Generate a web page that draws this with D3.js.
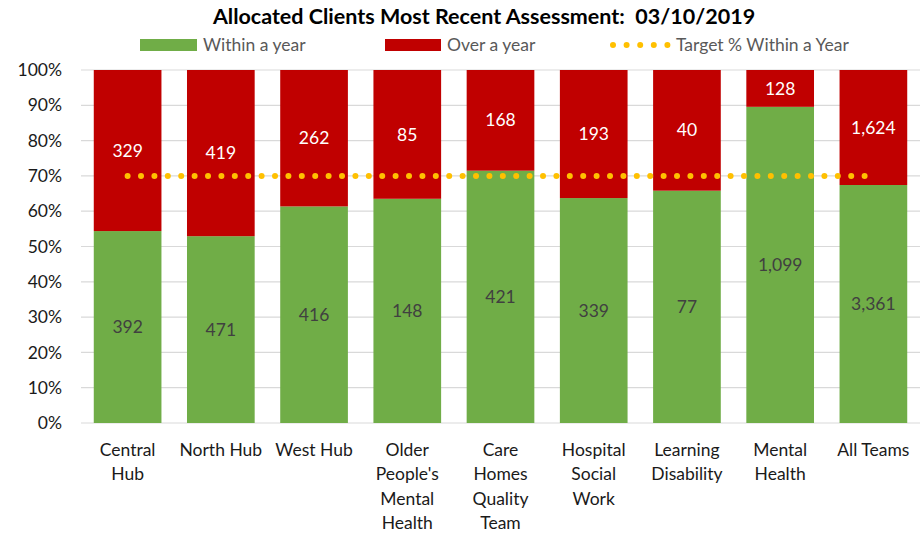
<!DOCTYPE html>
<html><head><meta charset="utf-8">
<script src="https://cdn.jsdelivr.net/npm/d3@7"></script>
<style>body{margin:0;background:#fff;} svg{display:block;font-family:Lato,"Open Sans",sans-serif;}</style>
</head><body><svg id="c" width="921" height="533"></svg>
<script>
const categories = ["Central\nHub","North Hub","West Hub","Older\nPeople's\nMental\nHealth","Care\nHomes\nQuality\nTeam","Hospital\nSocial\nWork","Learning\nDisability","Mental\nHealth","All Teams"];
const withinYear = [392,471,416,148,421,339,77,1099,3361];
const overYear = [329,419,262,85,168,193,40,128,1624];
const targetPct = 0.70;
const yTicks = [0,0.1,0.2,0.3,0.4,0.5,0.6,0.7,0.8,0.9,1.0];
const title = "Allocated Clients Most Recent Assessment:  03/10/2019";
const seriesNames = ["Within a year","Over a year","Target % Within a Year"];

const svg = d3.select("#c");
const m = {l:81, r:1, t:70, b:110};
const W = 921, H = 533;
const FS = 17.5;
const x = d3.scaleBand().domain(categories).range([m.l, W-m.r]).paddingInner(0.274).paddingOuter(0.137);
const y = d3.scaleLinear().domain([0,1]).range([423,70]);
const fmt = d3.format(",");

// gridlines
svg.append("g").selectAll("line").data(yTicks).join("line")
  .attr("x1", m.l).attr("x2", W-m.r)
  .attr("y1", d=>y(d)).attr("y2", d=>y(d))
  .attr("stroke","#d9d9d9").attr("stroke-width",1.2);

// y axis labels
svg.append("g").selectAll("text").data(yTicks).join("text")
  .attr("x", 62).attr("y", d=>y(d)).attr("dy","0.35em")
  .attr("text-anchor","end").attr("font-size",FS).attr("fill","#1a1a1a")
  .text(d=>d3.format(".0%")(d));

const rows = categories.map((c,i)=>{const t=withinYear[i]+overYear[i];return {c, w:withinYear[i], o:overYear[i], pw:withinYear[i]/t};});

// bars
svg.append("g").selectAll("rect").data(rows).join("rect")
  .attr("x", d=>x(d.c)).attr("width", x.bandwidth())
  .attr("y", d=>y(d.pw)).attr("height", d=>y(0)-y(d.pw))
  .attr("fill","#70ad47");
svg.append("g").selectAll("rect").data(rows).join("rect")
  .attr("x", d=>x(d.c)).attr("width", x.bandwidth())
  .attr("y", y(1)).attr("height", d=>y(d.pw)-y(1))
  .attr("fill","#c00000");

// data labels
svg.append("g").selectAll("text").data(rows).join("text")
  .attr("x", d=>x(d.c)+x.bandwidth()/2).attr("y", d=>y(d.pw/2)).attr("dy","0.35em")
  .attr("text-anchor","middle").attr("font-size",FS).attr("fill","#404040")
  .text(d=>fmt(d.w));
svg.append("g").selectAll("text").data(rows).join("text")
  .attr("x", d=>x(d.c)+x.bandwidth()/2).attr("y", d=>y((1+d.pw)/2)).attr("dy","0.35em")
  .attr("text-anchor","middle").attr("font-size",FS).attr("fill","#ffffff")
  .text(d=>fmt(d.o));

// target line
const line = d3.line().x(d=>x(d)+x.bandwidth()/2).y(()=>y(targetPct));
svg.append("path").datum(categories).attr("d", line)
  .attr("fill","none").attr("stroke","#ffc000").attr("stroke-width",6)
  .attr("stroke-linecap","round").attr("stroke-dasharray","0 13.4");

// category labels
const cg = svg.append("g").selectAll("text").data(categories).join("text")
  .attr("x", d=>x(d)+x.bandwidth()/2).attr("y", 456)
  .attr("text-anchor","middle").attr("font-size",FS).attr("fill","#1a1a1a");
cg.each(function(d){
  const t=d3.select(this);
  d.split("\n").forEach((s,i)=>t.append("tspan").attr("x", x(d)+x.bandwidth()/2).attr("y",456+i*24.3).text(s));
});

// title
svg.append("text").attr("x", 484).attr("y", 24).attr("text-anchor","middle")
  .style("white-space","pre")
  .attr("font-size",21.5).attr("font-weight","bold").attr("fill","#000").text(title);

// legend
const lg = svg.append("g").attr("font-size",FS).attr("fill","#595959");
lg.append("rect").attr("x",140).attr("y",39).attr("width",57).attr("height",12).attr("fill","#70ad47");
lg.append("text").attr("x",203).attr("y",45).attr("dy","0.35em").text(seriesNames[0]);
lg.append("rect").attr("x",385).attr("y",39).attr("width",56).attr("height",12).attr("fill","#c00000");
lg.append("text").attr("x",447).attr("y",45).attr("dy","0.35em").text(seriesNames[1]);
lg.append("line").attr("x1",613).attr("x2",668).attr("y1",45).attr("y2",45)
  .attr("stroke","#ffc000").attr("stroke-width",6).attr("stroke-linecap","round").attr("stroke-dasharray","0 13.6");
lg.append("text").attr("x",676).attr("y",45).attr("dy","0.35em").text(seriesNames[2]);
</script></body></html>
